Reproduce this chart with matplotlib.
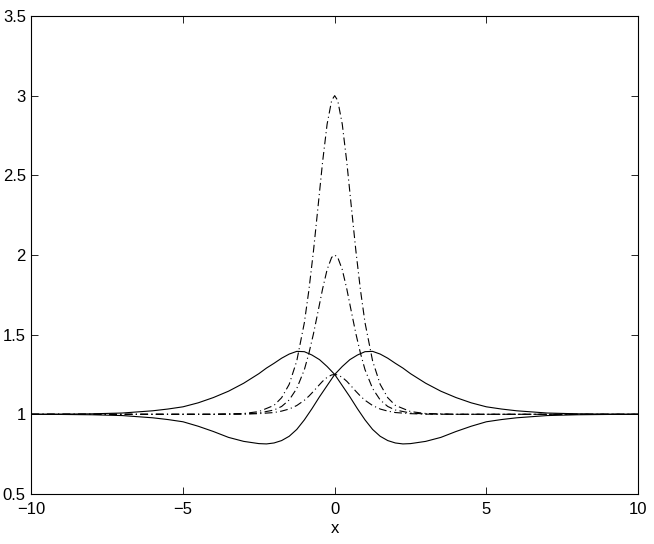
import matplotlib
matplotlib.use("Agg")
import matplotlib.pyplot as plt

# solid curves
x_solid = [-10, -9, -8, -7, -6, -5.5, -5, -4.5, -4, -3.5, -3, -2.5, -2.25, -2,
           -1.75, -1.5, -1.25, -1, -0.75, -0.5, -0.25, 0, 0.25, 0.5, 0.75, 1,
           1.25, 1.5, 1.75, 2, 2.25, 2.5, 3, 3.5, 4, 4.5, 5, 5.5, 6, 7, 8, 9, 10]
solid_a = [1.0, 1.001, 1.003, 1.008, 1.022, 1.033, 1.047, 1.072, 1.105, 1.145,
           1.195, 1.255, 1.29, 1.32, 1.352, 1.378, 1.395, 1.393, 1.372, 1.343,
           1.3, 1.25, 1.18, 1.11, 1.035, 0.965, 0.905, 0.862, 0.835, 0.82,
           0.814, 0.816, 0.83, 0.855, 0.892, 0.925, 0.953, 0.967, 0.978, 0.992,
           0.997, 0.999, 1.0]
solid_b = [1.0, 0.999, 0.997, 0.992, 0.978, 0.967, 0.953, 0.925, 0.892, 0.855,
           0.83, 0.816, 0.814, 0.82, 0.835, 0.862, 0.905, 0.965, 1.035, 1.11,
           1.18, 1.25, 1.3, 1.343, 1.372, 1.393, 1.395, 1.378, 1.352, 1.32,
           1.29, 1.255, 1.195, 1.145, 1.105, 1.072, 1.047, 1.033, 1.022, 1.008,
           1.003, 1.001, 1.0]

# dash-dot curves
x_dash = [-10, -4, -3, -2.5, -2, -1.75, -1.5, -1.25, -1, -0.85, -0.7, -0.55,
          -0.4, -0.25, -0.1, 0, 0.1, 0.25, 0.4, 0.55, 0.7, 0.85, 1, 1.25, 1.5,
          1.75, 2, 2.5, 3, 4, 10]
peak_tall = [1.0, 1.0, 1.005, 1.017, 1.056, 1.104, 1.188, 1.335, 1.575, 1.78,
             2.024, 2.301, 2.582, 2.821, 2.97, 3.0, 2.97, 2.821, 2.582, 2.301,
             2.024, 1.78, 1.575, 1.335, 1.188, 1.104, 1.056, 1.017, 1.005, 1.0,
             1.0]
peak_mid = [1.0, 1.0, 1.002, 1.008, 1.027, 1.049, 1.09, 1.162, 1.28, 1.383,
            1.505, 1.644, 1.786, 1.908, 1.985, 2.0, 1.985, 1.908, 1.786, 1.644,
            1.505, 1.383, 1.28, 1.162, 1.09, 1.049, 1.027, 1.008, 1.002, 1.0,
            1.0]
peak_small = [1.0, 1.0, 1.001, 1.004, 1.011, 1.02, 1.033, 1.055, 1.088, 1.114,
              1.144, 1.176, 1.207, 1.232, 1.247, 1.25, 1.247, 1.232, 1.207,
              1.176, 1.144, 1.114, 1.088, 1.055, 1.033, 1.02, 1.011, 1.004,
              1.001, 1.0, 1.0]

xticks = [-10, -5, 0, 5, 10]
yticks = [0.5, 1, 1.5, 2, 2.5, 3, 3.5]

plt.rcParams['font.family'] = ['Liberation Sans', 'DejaVu Sans']

fig = plt.figure(figsize=(6.54, 5.44), dpi=100)
ax = fig.add_axes([0.048, 0.092, 0.9275, 0.8786])

dashdot = (0, (7, 3, 1, 3))
ax.plot(x_solid, solid_a, color='black', lw=0.8)
ax.plot(x_solid, solid_b, color='black', lw=0.8)
ax.plot(x_dash, peak_tall, color='black', lw=0.8, linestyle=dashdot)
ax.plot(x_dash, peak_mid, color='black', lw=0.8, linestyle=dashdot)
ax.plot(x_dash, peak_small, color='black', lw=0.8, linestyle=dashdot)

ax.set_xlim(-10, 10)
ax.set_ylim(0.5, 3.5)
ax.set_xticks(xticks)
ax.set_yticks(yticks)
ax.set_xticklabels([str(t).replace('-', '\u2212') for t in xticks])
ax.set_yticklabels(['0.5', '1', '1.5', '2', '2.5', '3', '3.5'])
ax.tick_params(direction='in', top=True, right=True, length=5, width=0.6,
               labelsize=12)
ax.tick_params(axis='x', pad=6)
ax.tick_params(axis='y', pad=4)
for s in ax.spines.values():
    s.set_linewidth(0.8)
ax.set_xlabel('x', fontsize=12, labelpad=3)

fig.savefig('out.png', dpi=100)
